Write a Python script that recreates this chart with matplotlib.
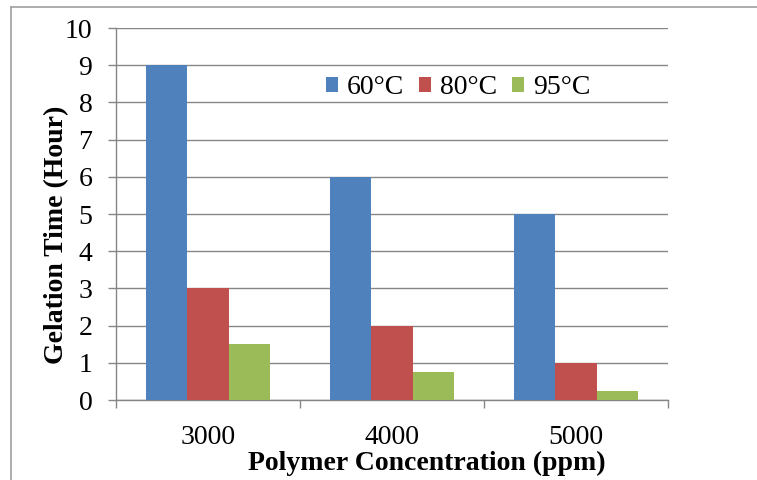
import matplotlib
matplotlib.use("Agg")
import matplotlib.pyplot as plt
import numpy as np
from matplotlib.lines import Line2D

categories = ["3000", "4000", "5000"]
series_names = ["60°C", "80°C", "95°C"]
v60 = [9, 6, 5]
v80 = [3, 2, 1]
v95 = [1.5, 0.75, 0.25]
colors = ["#4F81BD", "#C0504D", "#9BBB59"]
yticks = list(range(0, 11))

plt.rcParams['font.family'] = ['Liberation Serif', 'DejaVu Serif']
FS = 20
W, H = 757, 480

fig = plt.figure(figsize=(W/100, H/100), dpi=100)
ax = fig.add_axes([116/W, 1-400/H, (668-116)/W, (400-28)/H])

x = np.arange(len(categories))
w = 0.223
for i, (vals, c, name) in enumerate(zip([v60, v80, v95], colors, series_names)):
    ax.bar(x + (i-1)*w, vals, width=w, color=c, label=name, zorder=3)

ax.set_xlim(-0.5, 2.5)
ax.set_ylim(0, 10)
ax.set_yticks(yticks)
ax.set_yticklabels([str(t) for t in yticks], fontsize=FS)
ax.set_xticks(x)
ax.set_xticklabels(categories, fontsize=FS)
ax.set_xticks([-0.5, 0.5, 1.5, 2.5], minor=True)
ax.tick_params(axis='x', which='major', length=0, pad=18)
ax.tick_params(axis='x', which='minor', length=6, color='#868686', width=1)
ax.tick_params(axis='y', length=6, color='#868686', width=1, pad=11)
ax.grid(axis='y', color='#868686', linewidth=1, zorder=0)
for s in ['top', 'right']:
    ax.spines[s].set_visible(False)
for s in ['left', 'bottom']:
    ax.spines[s].set_color('#868686')
    ax.spines[s].set_linewidth(1)

fig.text(57/W, 1-235/H, "Gelation Time (Hour)", fontsize=FS, fontweight='bold',
         rotation=90, ha='center', va='center')
fig.text(427/W, 1-463/H, "Polymer Concentration (ppm)", fontsize=FS, fontweight='bold',
         ha='center', va='center')

leg = ax.legend(loc='center', bbox_to_anchor=((458-116)/552, (400-88)/372), ncol=3,
                frameon=False, fontsize=FS, handlelength=0.43, handleheight=0.43,
                handletextpad=0.32, columnspacing=0.55, borderpad=0)

# figure border (top and left visible)
fig.add_artist(Line2D([11/W, 1], [1-7/H, 1-7/H], color='#A0A0A0', lw=1.2, transform=fig.transFigure))
fig.add_artist(Line2D([11/W, 11/W], [0, 1-7/H], color='#A0A0A0', lw=1.2, transform=fig.transFigure))

fig.savefig("out.png", dpi=100)
